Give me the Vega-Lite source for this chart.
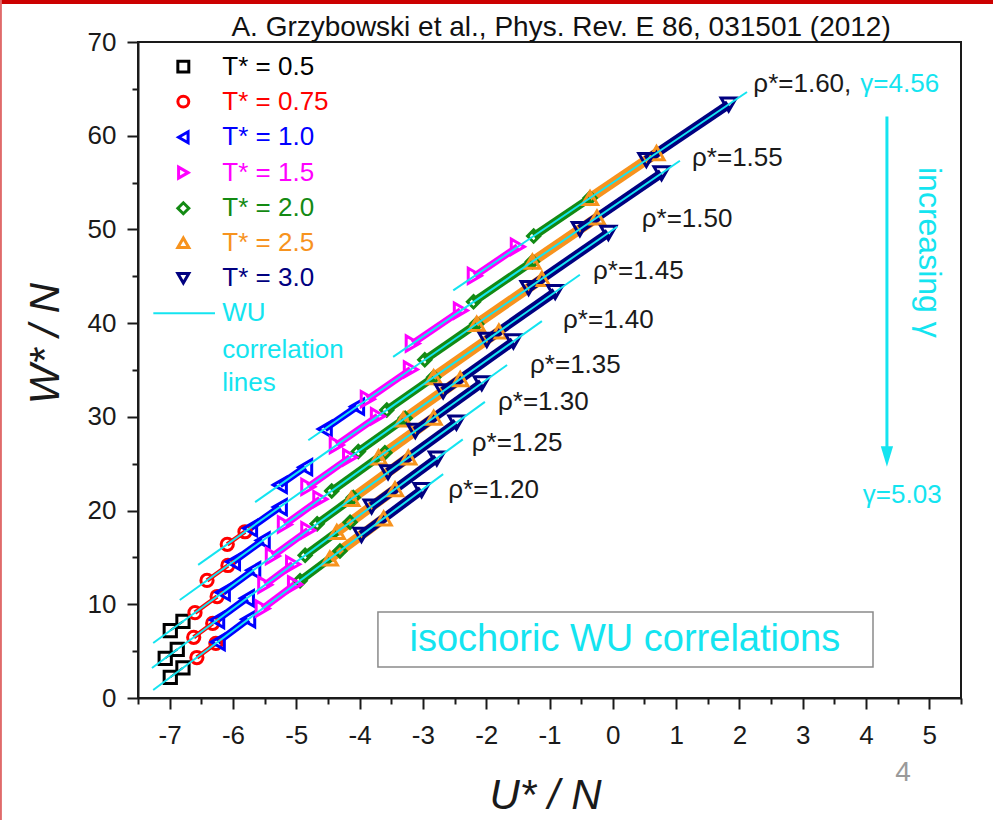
{
  "$schema": "https://vega.github.io/schema/vega-lite/v6.json",
  "width": 823,
  "height": 656,
  "autosize": {"type": "none"},
  "padding": {"left": 138, "top": 42, "right": 32, "bottom": 122},
  "background": "white",
  "config": {
    "font": "Liberation Sans",
    "view": {"stroke": "#1a1a1a", "strokeWidth": 2},
    "axis": {"grid": false, "domainColor": "#1a1a1a", "domainWidth": 2, "tickColor": "#1a1a1a", "tickWidth": 2, "labelColor": "#1a1a1a", "labelFont": "Liberation Sans", "labelFontSize": 26, "titleFont": "Liberation Sans", "titleFontSize": 42, "titleFontWeight": "normal", "titleFontStyle": "italic", "titleColor": "#1a1a1a"}
  },
  "datasets": {
    "pts": [
      {"T": "0.5", "rho": "1.20", "U": -6.99, "W": 2.21}, {"T": "0.5", "rho": "1.20", "U": -6.79, "W": 3.22},
      {"T": "0.5", "rho": "1.25", "U": -7.07, "W": 4.24}, {"T": "0.5", "rho": "1.25", "U": -6.88, "W": 5.19},
      {"T": "0.5", "rho": "1.30", "U": -6.99, "W": 7.20}, {"T": "0.5", "rho": "1.30", "U": -6.79, "W": 8.18},
      {"T": "0.75", "rho": "1.20", "U": -6.57, "W": 4.32}, {"T": "0.75", "rho": "1.20", "U": -6.27, "W": 5.83},
      {"T": "0.75", "rho": "1.25", "U": -6.62, "W": 6.48}, {"T": "0.75", "rho": "1.25", "U": -6.32, "W": 7.97},
      {"T": "0.75", "rho": "1.30", "U": -6.60, "W": 9.11}, {"T": "0.75", "rho": "1.30", "U": -6.25, "W": 10.83},
      {"T": "0.75", "rho": "1.35", "U": -6.41, "W": 12.54}, {"T": "0.75", "rho": "1.35", "U": -6.08, "W": 14.14},
      {"T": "0.75", "rho": "1.40", "U": -6.09, "W": 16.40}, {"T": "0.75", "rho": "1.40", "U": -5.81, "W": 17.74},
      {"T": "1.0", "rho": "1.20", "U": -6.24, "W": 5.98}, {"T": "1.0", "rho": "1.20", "U": -5.76, "W": 8.40},
      {"T": "1.0", "rho": "1.25", "U": -6.25, "W": 8.32}, {"T": "1.0", "rho": "1.25", "U": -5.78, "W": 10.65},
      {"T": "1.0", "rho": "1.30", "U": -6.16, "W": 11.27}, {"T": "1.0", "rho": "1.30", "U": -5.68, "W": 13.63},
      {"T": "1.0", "rho": "1.35", "U": -6.00, "W": 14.53}, {"T": "1.0", "rho": "1.35", "U": -5.53, "W": 16.81},
      {"T": "1.0", "rho": "1.40", "U": -5.73, "W": 18.12}, {"T": "1.0", "rho": "1.40", "U": -5.26, "W": 20.37},
      {"T": "1.0", "rho": "1.45", "U": -5.26, "W": 22.74}, {"T": "1.0", "rho": "1.45", "U": -4.86, "W": 24.63},
      {"T": "1.0", "rho": "1.50", "U": -4.55, "W": 28.71}, {"T": "1.0", "rho": "1.50", "U": -4.04, "W": 31.09},
      {"T": "1.5", "rho": "1.20", "U": -5.53, "W": 9.55}, {"T": "1.5", "rho": "1.20", "U": -5.02, "W": 12.12},
      {"T": "1.5", "rho": "1.25", "U": -5.49, "W": 12.09}, {"T": "1.5", "rho": "1.25", "U": -5.05, "W": 14.28},
      {"T": "1.5", "rho": "1.30", "U": -5.37, "W": 15.15}, {"T": "1.5", "rho": "1.30", "U": -4.81, "W": 17.90},
      {"T": "1.5", "rho": "1.35", "U": -5.18, "W": 18.51}, {"T": "1.5", "rho": "1.35", "U": -4.62, "W": 21.22},
      {"T": "1.5", "rho": "1.40", "U": -4.81, "W": 22.53}, {"T": "1.5", "rho": "1.40", "U": -4.15, "W": 25.69},
      {"T": "1.5", "rho": "1.45", "U": -4.36, "W": 27.00}, {"T": "1.5", "rho": "1.45", "U": -3.71, "W": 30.07},
      {"T": "1.5", "rho": "1.50", "U": -3.87, "W": 31.89}, {"T": "1.5", "rho": "1.50", "U": -3.19, "W": 35.06},
      {"T": "1.5", "rho": "1.55", "U": -3.16, "W": 37.83}, {"T": "1.5", "rho": "1.55", "U": -2.40, "W": 41.34},
      {"T": "1.5", "rho": "1.60", "U": -2.18, "W": 45.05}, {"T": "1.5", "rho": "1.60", "U": -1.50, "W": 48.15},
      {"T": "2.0", "rho": "1.20", "U": -4.94, "W": 12.52}, {"T": "2.0", "rho": "1.20", "U": -4.31, "W": 15.69},
      {"T": "2.0", "rho": "1.25", "U": -4.86, "W": 15.23}, {"T": "2.0", "rho": "1.25", "U": -4.15, "W": 18.75},
      {"T": "2.0", "rho": "1.30", "U": -4.67, "W": 18.59}, {"T": "2.0", "rho": "1.30", "U": -4.10, "W": 21.39},
      {"T": "2.0", "rho": "1.35", "U": -4.44, "W": 22.10}, {"T": "2.0", "rho": "1.35", "U": -3.60, "W": 26.17},
      {"T": "2.0", "rho": "1.40", "U": -4.02, "W": 26.31}, {"T": "2.0", "rho": "1.40", "U": -3.28, "W": 29.86},
      {"T": "2.0", "rho": "1.45", "U": -3.57, "W": 30.73}, {"T": "2.0", "rho": "1.45", "U": -2.83, "W": 34.23},
      {"T": "2.0", "rho": "1.50", "U": -2.97, "W": 36.09}, {"T": "2.0", "rho": "1.50", "U": -2.15, "W": 39.92},
      {"T": "2.0", "rho": "1.55", "U": -2.20, "W": 42.27}, {"T": "2.0", "rho": "1.55", "U": -1.27, "W": 46.56},
      {"T": "2.0", "rho": "1.60", "U": -1.25, "W": 49.29}, {"T": "2.0", "rho": "1.60", "U": -0.36, "W": 53.35},
      {"T": "2.5", "rho": "1.20", "U": -4.47, "W": 14.89}, {"T": "2.5", "rho": "1.20", "U": -3.62, "W": 19.16},
      {"T": "2.5", "rho": "1.25", "U": -4.36, "W": 17.71}, {"T": "2.5", "rho": "1.25", "U": -3.44, "W": 22.28},
      {"T": "2.5", "rho": "1.30", "U": -4.13, "W": 21.24}, {"T": "2.5", "rho": "1.30", "U": -3.23, "W": 25.66},
      {"T": "2.5", "rho": "1.35", "U": -3.70, "W": 25.68}, {"T": "2.5", "rho": "1.35", "U": -2.83, "W": 29.90},
      {"T": "2.5", "rho": "1.40", "U": -3.31, "W": 29.72}, {"T": "2.5", "rho": "1.40", "U": -2.41, "W": 34.03},
      {"T": "2.5", "rho": "1.45", "U": -2.83, "W": 34.23}, {"T": "2.5", "rho": "1.45", "U": -1.80, "W": 39.11},
      {"T": "2.5", "rho": "1.50", "U": -2.15, "W": 39.92}, {"T": "2.5", "rho": "1.50", "U": -1.12, "W": 44.73},
      {"T": "2.5", "rho": "1.55", "U": -1.27, "W": 46.56}, {"T": "2.5", "rho": "1.55", "U": -0.25, "W": 51.27},
      {"T": "2.5", "rho": "1.60", "U": -0.36, "W": 53.35}, {"T": "2.5", "rho": "1.60", "U": 0.69, "W": 58.14},
      {"T": "3.0", "rho": "1.20", "U": -3.97, "W": 17.40}, {"T": "3.0", "rho": "1.20", "U": -3.02, "W": 22.18},
      {"T": "3.0", "rho": "1.25", "U": -3.81, "W": 20.44}, {"T": "3.0", "rho": "1.25", "U": -2.78, "W": 25.56},
      {"T": "3.0", "rho": "1.30", "U": -3.55, "W": 24.09}, {"T": "3.0", "rho": "1.30", "U": -2.47, "W": 29.39},
      {"T": "3.0", "rho": "1.35", "U": -3.12, "W": 28.50}, {"T": "3.0", "rho": "1.35", "U": -2.07, "W": 33.59},
      {"T": "3.0", "rho": "1.40", "U": -2.68, "W": 32.73}, {"T": "3.0", "rho": "1.40", "U": -1.57, "W": 38.05},
      {"T": "3.0", "rho": "1.45", "U": -1.99, "W": 38.21}, {"T": "3.0", "rho": "1.45", "U": -0.91, "W": 43.32},
      {"T": "3.0", "rho": "1.50", "U": -1.33, "W": 43.75}, {"T": "3.0", "rho": "1.50", "U": -0.07, "W": 49.63},
      {"T": "3.0", "rho": "1.55", "U": -0.52, "W": 50.03}, {"T": "3.0", "rho": "1.55", "U": 0.77, "W": 55.99},
      {"T": "3.0", "rho": "1.60", "U": 0.53, "W": 57.41}, {"T": "3.0", "rho": "1.60", "U": 1.83, "W": 63.33}
    ],
    "wu": [
      {"rho": "1.20", "U": -7.26, "W": 0.85}, {"rho": "1.20", "U": -2.68, "W": 23.89},
      {"rho": "1.25", "U": -7.28, "W": 3.20}, {"rho": "1.25", "U": -2.37, "W": 27.60},
      {"rho": "1.30", "U": -7.26, "W": 5.87}, {"rho": "1.30", "U": -2.02, "W": 31.60},
      {"rho": "1.35", "U": -6.84, "W": 10.46}, {"rho": "1.35", "U": -1.67, "W": 35.53},
      {"rho": "1.40", "U": -6.55, "W": 14.20}, {"rho": "1.40", "U": -1.12, "W": 40.21},
      {"rho": "1.45", "U": -5.65, "W": 20.90}, {"rho": "1.45", "U": -0.52, "W": 45.16},
      {"rho": "1.50", "U": -4.81, "W": 27.50}, {"rho": "1.50", "U": 0.07, "W": 50.29},
      {"rho": "1.55", "U": -3.47, "W": 36.40}, {"rho": "1.55", "U": 1.06, "W": 57.33},
      {"rho": "1.60", "U": -2.52, "W": 43.50}, {"rho": "1.60", "U": 2.12, "W": 64.66}
    ],
    "leg": [
      {"T": "0.5", "label": "T* = 0.5", "U": -6.784, "W": 67.37},
      {"T": "0.75", "label": "T* = 0.75", "U": -6.784, "W": 63.64},
      {"T": "1.0", "label": "T* = 1.0", "U": -6.784, "W": 59.84},
      {"T": "1.5", "label": "T* = 1.5", "U": -6.784, "W": 56.06},
      {"T": "2.0", "label": "T* = 2.0", "U": -6.784, "W": 52.26},
      {"T": "2.5", "label": "T* = 2.5", "U": -6.784, "W": 48.59},
      {"T": "3.0", "label": "T* = 3.0", "U": -6.784, "W": 44.79}
    ],
    "wuleg": [{"U": -7.258, "U2": -6.284, "W": 41.06}],
    "wulegtext": [
      {"text": "WU", "U": -6.17, "W": 41.06},
      {"text": "correlation", "U": -6.17, "W": 37.14},
      {"text": "lines", "U": -6.17, "W": 33.59}
    ],
    "rholab": [
      {"text": "ρ*=1.60,", "U": 2.22, "W": 65.53},
      {"text": "ρ*=1.55", "U": 1.252, "W": 57.63},
      {"text": "ρ*=1.50", "U": 0.457, "W": 51.12},
      {"text": "ρ*=1.45", "U": -0.312, "W": 45.57},
      {"text": "ρ*=1.40", "U": -0.786, "W": 40.34},
      {"text": "ρ*=1.35", "U": -1.307, "W": 35.54},
      {"text": "ρ*=1.30", "U": -1.813, "W": 31.59},
      {"text": "ρ*=1.25", "U": -2.228, "W": 27.21},
      {"text": "ρ*=1.20", "U": -2.598, "W": 22.20}
    ],
    "gamma": [
      {"text": "γ=4.56", "U": 3.91, "W": 65.53},
      {"text": "γ=5.03", "U": 3.95, "W": 21.67}
    ],
    "incr": [{"text": "increasing γ", "U": 4.996, "W": 47.55}],
    "arrow": [{"U": 4.33, "W": 62.04, "W2": 26.4}],
    "arrowhead": [{"U": 4.33, "W": 25.76}],
    "box": [{"U": -3.71, "U2": 4.11, "W": 9.18, "W2": 3.31}],
    "boxtext": [{"text": "isochoric WU correlations", "U": 0.19, "W": 6.2}],
    "page": [{"text": "4", "U": 4.585, "W": -8.0}],
    "titletext": [{"text": "A. Grzybowski et al., Phys. Rev. E 86, 031501 (2012)", "U": -0.817, "W": 71.5}],
    "slidetop": [{"U": -9.68, "U2": 6.01, "W": 74.5, "W2": 74.05}],
    "slideleft": [{"U": -9.68, "U2": -9.65, "W": 74.5, "W2": -13.1}]
  },
  "encoding": {
    "x": {"field": "U", "type": "quantitative", "scale": {"domain": [-7.5, 5.5], "nice": false, "zero": false},
      "axis": {"title": "U* / N", "values": [-7.5, -7, -6.5, -6, -5.5, -5, -4.5, -4, -3.5, -3, -2.5, -2, -1.5, -1, -0.5, 0, 0.5, 1, 1.5, 2, 2.5, 3, 3.5, 4, 4.5, 5, 5.5],
        "labelExpr": "datum.value % 1 === 0 ? '' + datum.value : ''", "labelOverlap": false, "labelFlush": false,
        "tickSize": {"condition": {"test": "datum.value % 1 === 0", "value": 11}, "value": 6},
        "labelPadding": 13, "titleX": 407, "titleY": 97, "titleAlign": "center", "titleBaseline": "middle"}},
    "y": {"field": "W", "type": "quantitative", "scale": {"domain": [0, 70], "nice": false, "zero": false},
      "axis": {"title": "W* / N", "values": [0, 5, 10, 15, 20, 25, 30, 35, 40, 45, 50, 55, 60, 65, 70],
        "labelExpr": "datum.value % 10 === 0 ? '' + datum.value : ''", "labelOverlap": false, "labelFlush": false,
        "tickSize": {"condition": {"test": "datum.value % 10 === 0", "value": 11}, "value": 6},
        "labelPadding": 11, "titleX": -93, "titleY": 301, "titleAlign": "center", "titleBaseline": "middle", "titleAngle": -90}}
  },
  "layer": [
    {
      "data": {"name": "slidetop"},
      "mark": {"type": "rect", "clip": false, "color": "#cc0000"},
      "encoding": {"x2": {"field": "U2"}, "y2": {"field": "W2"}}
    },
    {
      "data": {"name": "slideleft"},
      "mark": {"type": "rect", "clip": false, "color": "#e06a6a"},
      "encoding": {"x2": {"field": "U2"}, "y2": {"field": "W2"}}
    },
    {
      "data": {"name": "titletext"},
      "mark": {"type": "text", "fontSize": 28, "align": "center", "baseline": "middle", "color": "#111111"},
      "encoding": {"text": {"field": "text"}}
    },
    {
      "data": {"name": "box"},
      "mark": {"type": "rect", "fill": "white", "stroke": "#8a8a8a", "strokeWidth": 1.5},
      "encoding": {"x2": {"field": "U2"}, "y2": {"field": "W2"}}
    },
    {
      "data": {"name": "boxtext"},
      "mark": {"type": "text", "fontSize": 38, "color": "#14e4f0", "align": "center", "baseline": "middle"},
      "encoding": {"text": {"field": "text"}}
    },
    {
      "data": {"name": "pts"},
      "transform": [{"filter": {"field": "T", "oneOf": ["0.5"]}}],
      "mark": {"type": "line", "strokeCap": "butt", "strokeWidth": 2, "color": "#000000"},
      "encoding": {"detail": {"field": "rho"}, "order": {"field": "U", "type": "quantitative"}}
    },
    {
      "data": {"name": "pts"},
      "transform": [{"filter": {"field": "T", "oneOf": ["0.75"]}}],
      "mark": {"type": "line", "strokeCap": "butt", "strokeWidth": 4.5, "color": "#ff0000"},
      "encoding": {"detail": {"field": "rho"}, "order": {"field": "U", "type": "quantitative"}}
    },
    {
      "data": {"name": "pts"},
      "transform": [{"filter": {"field": "T", "oneOf": ["1.0"]}}],
      "mark": {"type": "line", "strokeCap": "butt", "strokeWidth": 7, "color": "#0000ff"},
      "encoding": {"detail": {"field": "rho"}, "order": {"field": "U", "type": "quantitative"}}
    },
    {
      "data": {"name": "pts"},
      "transform": [{"filter": {"field": "T", "oneOf": ["1.5"]}}],
      "mark": {"type": "line", "strokeCap": "butt", "strokeWidth": 7, "color": "#ff00ff"},
      "encoding": {"detail": {"field": "rho"}, "order": {"field": "U", "type": "quantitative"}}
    },
    {
      "data": {"name": "pts"},
      "transform": [{"filter": {"field": "T", "oneOf": ["2.0"]}}],
      "mark": {"type": "line", "strokeCap": "butt", "strokeWidth": 8, "color": "#138a13"},
      "encoding": {"detail": {"field": "rho"}, "order": {"field": "U", "type": "quantitative"}}
    },
    {
      "data": {"name": "pts"},
      "transform": [{"filter": {"field": "T", "oneOf": ["2.5"]}}],
      "mark": {"type": "line", "strokeCap": "butt", "strokeWidth": 10, "color": "#f7931e"},
      "encoding": {"detail": {"field": "rho"}, "order": {"field": "U", "type": "quantitative"}}
    },
    {
      "data": {"name": "pts"},
      "transform": [{"filter": {"field": "T", "oneOf": ["3.0"]}}],
      "mark": {"type": "line", "strokeCap": "butt", "strokeWidth": 9, "color": "#000080"},
      "encoding": {"detail": {"field": "rho"}, "order": {"field": "U", "type": "quantitative"}}
    },
    {
      "data": {"name": "pts"},
      "transform": [{"filter": {"field": "T", "oneOf": ["0.5", "0.75", "2.0"]}}],
      "mark": {"type": "point", "filled": false, "strokeWidth": 3, "size": 150, "opacity": 1},
      "encoding": {
        "color": {"field": "T", "type": "nominal", "scale": {"domain": ["0.5", "0.75", "1.0", "1.5", "2.0", "2.5", "3.0"], "range": ["#000000", "#ff0000", "#0000ff", "#ff00ff", "#138a13", "#f7931e", "#000080"]}, "legend": null},
        "shape": {"field": "T", "type": "nominal", "scale": {"domain": ["0.5", "0.75", "1.0", "1.5", "2.0", "2.5", "3.0"], "range": ["square", "circle", "triangle-left", "triangle-right", "diamond", "triangle-up", "triangle-down"]}, "legend": null}
      }
    },
    {
      "data": {"name": "pts"},
      "transform": [{"filter": {"field": "T", "oneOf": ["1.0", "1.5", "2.5", "3.0"]}}],
      "mark": {"type": "point", "filled": false, "strokeWidth": 3, "size": 230, "opacity": 1},
      "encoding": {
        "color": {"field": "T", "type": "nominal", "scale": {"domain": ["0.5", "0.75", "1.0", "1.5", "2.0", "2.5", "3.0"], "range": ["#000000", "#ff0000", "#0000ff", "#ff00ff", "#138a13", "#f7931e", "#000080"]}, "legend": null},
        "shape": {"field": "T", "type": "nominal", "scale": {"domain": ["0.5", "0.75", "1.0", "1.5", "2.0", "2.5", "3.0"], "range": ["square", "circle", "triangle-left", "triangle-right", "diamond", "triangle-up", "triangle-down"]}, "legend": null}
      }
    },
    {
      "data": {"name": "wu"},
      "mark": {"type": "line", "color": "#14e4f0", "strokeWidth": 2},
      "encoding": {"detail": {"field": "rho"}}
    },
    {
      "data": {"name": "leg"},
      "mark": {"type": "point", "filled": false, "strokeWidth": 3, "size": 120, "opacity": 1},
      "encoding": {
        "color": {"field": "T", "type": "nominal", "scale": {"domain": ["0.5", "0.75", "1.0", "1.5", "2.0", "2.5", "3.0"], "range": ["#000000", "#ff0000", "#0000ff", "#ff00ff", "#138a13", "#f7931e", "#000080"]}, "legend": null},
        "shape": {"field": "T", "type": "nominal", "scale": {"domain": ["0.5", "0.75", "1.0", "1.5", "2.0", "2.5", "3.0"], "range": ["square", "circle", "triangle-left", "triangle-right", "diamond", "triangle-up", "triangle-down"]}, "legend": null}
      }
    },
    {
      "data": {"name": "leg"},
      "mark": {"type": "text", "fontSize": 26, "align": "left", "baseline": "middle", "dx": 39},
      "encoding": {
        "text": {"field": "label"},
        "color": {"field": "T", "type": "nominal", "scale": {"domain": ["0.5", "0.75", "1.0", "1.5", "2.0", "2.5", "3.0"], "range": ["#000000", "#ff0000", "#0000ff", "#ff00ff", "#138a13", "#f7931e", "#000080"]}, "legend": null}
      }
    },
    {
      "data": {"name": "wuleg"},
      "mark": {"type": "rule", "color": "#14e4f0", "strokeWidth": 2},
      "encoding": {"x2": {"field": "U2"}}
    },
    {
      "data": {"name": "wulegtext"},
      "mark": {"type": "text", "fontSize": 26, "align": "left", "baseline": "middle", "color": "#14e4f0"},
      "encoding": {"text": {"field": "text"}}
    },
    {
      "data": {"name": "rholab"},
      "mark": {"type": "text", "fontSize": 26, "align": "left", "baseline": "middle", "color": "#1a1a1a"},
      "encoding": {"text": {"field": "text"}}
    },
    {
      "data": {"name": "gamma"},
      "mark": {"type": "text", "fontSize": 26, "align": "left", "baseline": "middle", "color": "#14e4f0"},
      "encoding": {"text": {"field": "text"}}
    },
    {
      "data": {"name": "incr"},
      "mark": {"type": "text", "fontSize": 32, "align": "center", "baseline": "middle", "angle": 90, "color": "#14e4f0"},
      "encoding": {"text": {"field": "text"}}
    },
    {
      "data": {"name": "arrow"},
      "mark": {"type": "rule", "color": "#14e4f0", "strokeWidth": 3},
      "encoding": {"y2": {"field": "W2"}}
    },
    {
      "data": {"name": "arrowhead"},
      "mark": {"type": "point", "shape": "M-0.6,-1L0.6,-1L0,1Z", "filled": true, "size": 420, "color": "#14e4f0", "opacity": 1}
    },
    {
      "data": {"name": "page"},
      "mark": {"type": "text", "fontSize": 28, "align": "center", "baseline": "middle", "color": "#9a9a9a"},
      "encoding": {"text": {"field": "text"}}
    }
  ]
}
